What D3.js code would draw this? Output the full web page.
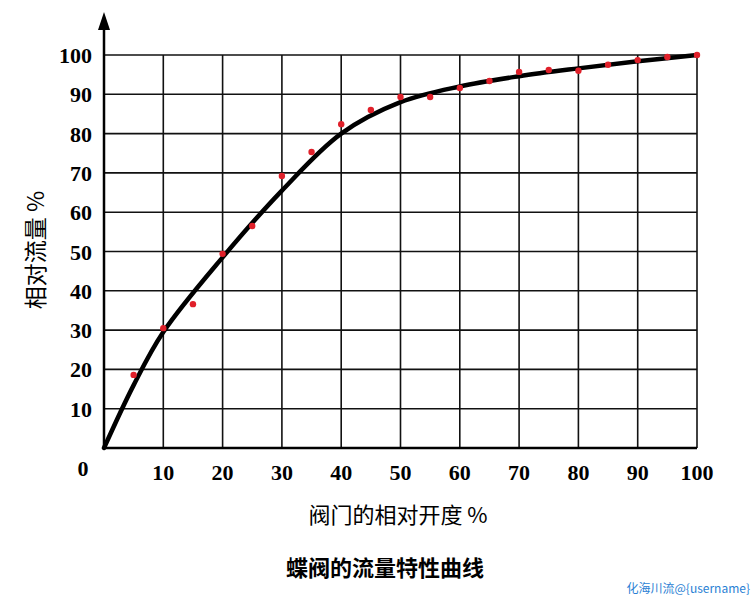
<!DOCTYPE html>
<html>
<head>
<meta charset="utf-8">
<script src="https://d3js.org/d3.v7.min.js"></script>
<style>body{margin:0;background:#fff}</style>
</head>
<body>
<svg id="chart" width="756" height="600"></svg>
<script>
// 测量点（红点）
var openings = [5,10,15,20,25,30,35,40,45,50,55,60,65,70,75,80,85,90,95,100];
var flows = [18.6,30.5,36.6,49.4,56.5,69.2,75.3,82.4,86,89.3,89.3,91.6,93.4,95.7,96.2,96,97.5,98.7,99.5,100];
// 拟合曲线
var curveX = [0,5,10,20,30,40,50,60,70,80,90,100];
var curveY = [0,16,29.5,48.5,65.5,80,88,92,94.6,96.6,98.4,100];
var ticks = [10,20,30,40,50,60,70,80,90,100];

var svg = d3.select('#chart');
var x = d3.scaleLinear().domain([0,100]).range([104,697]);
var y = d3.scaleLinear().domain([0,100]).range([448,55]);
var serif = '"Liberation Serif","DejaVu Serif",serif';

// 网格
svg.selectAll('.gx').data(ticks).enter().append('line')
  .attr('x1', d => x(d)).attr('x2', d => x(d)).attr('y1', y(0)).attr('y2', y(100))
  .attr('stroke', '#111').attr('stroke-width', 1.6);
svg.selectAll('.gy').data(ticks).enter().append('line')
  .attr('x1', x(0)).attr('x2', x(100)).attr('y1', d => y(d)).attr('y2', d => y(d))
  .attr('stroke', '#111').attr('stroke-width', 1.6);

// 坐标轴
svg.append('line').attr('x1', x(0)).attr('x2', x(100)).attr('y1', y(0)).attr('y2', y(0))
  .attr('stroke', '#000').attr('stroke-width', 2.5);
svg.append('line').attr('x1', x(0)).attr('x2', x(0)).attr('y1', y(0)).attr('y2', 22)
  .attr('stroke', '#000').attr('stroke-width', 2.5);
svg.append('path').attr('d', 'M' + (x(0)-6) + ',30 L' + x(0) + ',12 L' + (x(0)+6) + ',30 Z').attr('fill', '#000');

// 刻度文字
svg.selectAll('.tx').data(ticks).enter().append('text')
  .attr('x', d => x(d)).attr('y', 480).attr('text-anchor', 'middle')
  .attr('font-family', serif).attr('font-weight', 'bold').attr('font-size', 22).text(d => d);
svg.selectAll('.ty').data(ticks).enter().append('text')
  .attr('x', 92).attr('y', d => y(d) + 8).attr('text-anchor', 'end')
  .attr('font-family', serif).attr('font-weight', 'bold').attr('font-size', 22).text(d => d);
svg.append('text').attr('x', 83).attr('y', 476).attr('text-anchor', 'middle')
  .attr('font-family', serif).attr('font-weight', 'bold').attr('font-size', 22).text('0');

// 曲线
var line = d3.line().x((d, i) => x(curveX[i])).y(d => y(d)).curve(d3.curveCatmullRom.alpha(0.5));
svg.append('path').attr('d', line(curveY)).attr('fill', 'none')
  .attr('stroke', '#000').attr('stroke-width', 4.5).attr('stroke-linecap', 'round');

// 红点
svg.selectAll('.pt').data(flows).enter().append('circle')
  .attr('cx', (d, i) => x(openings[i])).attr('cy', d => y(d)).attr('r', 3.2).attr('fill', '#e0202a');

// 标题
svg.append('text').attr('transform', 'translate(44,250) rotate(-90)').attr('text-anchor', 'middle')
  .attr('font-family', '"Noto Sans CJK SC"').attr('font-size', 23).text('相对流量 %');
svg.append('text').attr('x', 398).attr('y', 523).attr('text-anchor', 'middle')
  .attr('font-family', '"Noto Sans CJK SC"').attr('font-size', 22).text('阀门的相对开度 %');
svg.append('text').attr('x', 385).attr('y', 576).attr('text-anchor', 'middle')
  .attr('font-family', '"Noto Sans CJK SC"').attr('font-weight', 'bold').attr('font-size', 22).text('蝶阀的流量特性曲线');
svg.append('text').attr('x', 750).attr('y', 593).attr('text-anchor', 'end')
  .attr('font-family', '"Noto Sans CJK SC"').attr('font-size', 12).attr('fill', '#2a7fd4').text('化海川流@{username}');
</script>
</body>
</html>
